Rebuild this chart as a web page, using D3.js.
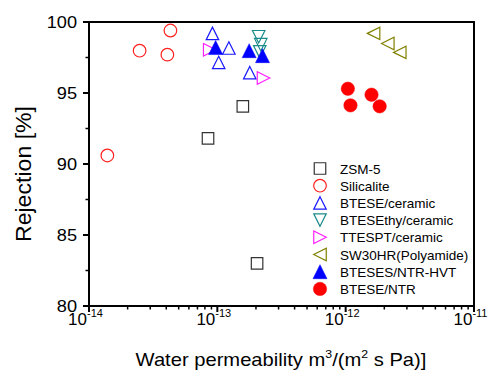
<!DOCTYPE html>
<html>
<head>
<meta charset="utf-8">
<script src="https://cdn.jsdelivr.net/npm/d3@7"></script>
<style>
  html, body { margin: 0; padding: 0; background: #fff; }
  svg { display: block; font-family: Arial, "Liberation Sans", sans-serif; }
</style>
</head>
<body>
<svg id="chart" width="494" height="372"></svg>
<script>
// data: [permeability, rejection %]
const zsm5 = [[8.46e-14, 91.8], [1.58e-13, 94.06], [2.04e-13, 83.0]];
const silicalite = [[1.39e-14, 90.6], [2.48e-14, 97.98], [4.31e-14, 99.4], [4.08e-14, 97.7]];
const bteseCeramic = [[9.16e-14, 99.2], [1.23e-13, 98.17], [1.025e-13, 97.15], [1.79e-13, 96.43]];
const btesethyCeramic = [[2.10e-13, 98.96], [2.18e-13, 98.4], [2.14e-13, 97.9]];
const ttesptCeramic = [[8.72e-14, 98.05], [2.29e-13, 96.06]];
const sw30hr = [[1.65e-12, 99.2], [2.13e-12, 98.49], [2.64e-12, 97.86]];
const btesesHvt = [[9.7e-14, 98.2], [1.77e-13, 97.98], [2.25e-13, 97.63]];
const bteseNtr = [[1.04e-12, 95.3], [1.09e-12, 94.13], [1.59e-12, 94.88], [1.84e-12, 94.06]];

const seriesNames = ['ZSM-5', 'Silicalite', 'BTESE/ceramic', 'BTESEthy/ceramic',
  'TTESPT/ceramic', 'SW30HR(Polyamide)', 'BTESES/NTR-HVT', 'BTESE/NTR'];
const seriesData = [zsm5, silicalite, bteseCeramic, btesethyCeramic,
  ttesptCeramic, sw30hr, btesesHvt, bteseNtr];

const xTicks = [1e-14, 1e-13, 1e-12, 1e-11];
const xTickExp = ['-14', '-13', '-12', '-11'];
const yTicks = [80, 85, 90, 95, 100];

// marker styles
const styles = [
  { shape: 'square', color: '#333333', fill: false },
  { shape: 'circle', color: '#ff2020', fill: false },
  { shape: 'up', color: '#1a1aff', fill: false },
  { shape: 'down', color: '#1a8a8a', fill: false },
  { shape: 'right', color: '#ff20ff', fill: false },
  { shape: 'left', color: '#808000', fill: false },
  { shape: 'up', color: '#0000ff', fill: true },
  { shape: 'circle', color: '#ff0000', fill: true },
];

const mLeft = 89, mTop = 22, mRight = 474, mBottom = 306;

const svg = d3.select('#chart');

const x = d3.scaleLog().domain([1e-14, 1e-11]).range([mLeft, mRight]);
const y = d3.scaleLinear().domain([80, 100]).range([mBottom, mTop]);

function markerPath(shape, s) {
  const h = s / 2;
  if (shape === 'up') return `M0,${-h}L${h},${h}L${-h},${h}Z`;
  if (shape === 'down') return `M0,${h}L${h},${-h}L${-h},${-h}Z`;
  if (shape === 'right') return `M${h},0L${-h},${h}L${-h},${-h}Z`;
  if (shape === 'left') return `M${-h},0L${h},${h}L${h},${-h}Z`;
  if (shape === 'square') return `M${-h + 0.5},${-h + 0.5}H${h - 0.5}V${h - 0.5}H${-h + 0.5}Z`;
  return null;
}

function drawMarker(g, st, cx, cy) {
  const size = st.fill ? 14 : 12.5;
  if (st.shape === 'circle') {
    g.append('circle')
      .attr('cx', cx).attr('cy', cy)
      .attr('r', st.fill ? 6.7 : 6.3)
      .attr('fill', st.fill ? st.color : 'none')
      .attr('stroke', st.color)
      .attr('stroke-width', st.fill ? 0.5 : 1.2);
  } else {
    g.append('path')
      .attr('d', markerPath(st.shape, size))
      .attr('transform', `translate(${cx},${cy})`)
      .attr('fill', st.fill ? st.color : 'none')
      .attr('stroke', st.color)
      .attr('stroke-width', st.fill ? 0.5 : 1.2)
      .attr('stroke-linejoin', 'miter');
  }
}

// frame
svg.append('rect')
  .attr('x', mLeft).attr('y', mTop)
  .attr('width', mRight - mLeft).attr('height', mBottom - mTop)
  .attr('fill', 'none').attr('stroke', '#000').attr('stroke-width', 2);

// x axis ticks (log minor)
const xg = svg.append('g');
for (let e = -14; e < -11; e++) {
  for (let m = 1; m <= 9; m++) {
    const v = m * Math.pow(10, e);
    xg.append('line')
      .attr('x1', x(v)).attr('x2', x(v))
      .attr('y1', mBottom).attr('y2', mBottom + (m === 1 ? 6 : 3.5))
      .attr('stroke', '#000').attr('stroke-width', m === 1 ? 2 : 1.5);
  }
}
xg.append('line')
  .attr('x1', x(1e-11)).attr('x2', x(1e-11))
  .attr('y1', mBottom).attr('y2', mBottom + 6)
  .attr('stroke', '#000').attr('stroke-width', 2);

xTicks.forEach((v, i) => {
  const t = xg.append('text')
    .attr('x', x(v) - 3.5).attr('y', 325)
    .attr('text-anchor', 'middle')
    .attr('font-size', 17);
  t.append('tspan').text('10');
  t.append('tspan').attr('dy', -8).attr('font-size', 11).text(xTickExp[i]);
});

// y axis ticks
const yg = svg.append('g');
for (let v = 80; v <= 100; v += 2.5) {
  const major = v % 5 === 0;
  yg.append('line')
    .attr('x1', mLeft).attr('x2', mLeft - (major ? 6 : 3.5))
    .attr('y1', y(v)).attr('y2', y(v))
    .attr('stroke', '#000').attr('stroke-width', major ? 2 : 1.5);
}
yTicks.forEach(v => {
  yg.append('text')
    .attr('transform', `translate(${mLeft - 12},${y(v) + 6}) scale(1.07,1)`)
    .attr('text-anchor', 'end')
    .attr('font-size', 17)
    .text(v);
});

// axis titles
const xl = svg.append('text')
  .attr('transform', 'translate(281,366) scale(1.12,1)')
  .attr('text-anchor', 'middle')
  .attr('font-size', 18);
xl.append('tspan').text('Water permeability m');
xl.append('tspan').attr('dy', -8).attr('font-size', 11).text('3');
xl.append('tspan').attr('dy', 8).text('/(m');
xl.append('tspan').attr('dy', -8).attr('font-size', 11).text('2');
xl.append('tspan').attr('dy', 8).text(' s Pa)]');

svg.append('text')
  .attr('transform', 'translate(31,174) rotate(-90) scale(1.05,1)')
  .attr('text-anchor', 'middle')
  .attr('font-size', 22)
  .text('Rejection [%]');

// points
const pts = svg.append('g');
seriesData.forEach((data, i) => {
  data.forEach(d => drawMarker(pts, styles[i], x(d[0]), y(d[1])));
});

// legend
const lg = svg.append('g');
seriesNames.forEach((name, i) => {
  const ly = 168.5 + i * 17.2;
  drawMarker(lg, styles[i], 320, ly);
  lg.append('text')
    .attr('x', 340).attr('y', ly + 5)
    .attr('font-size', 13.5)
    .text(name);
});
</script>
</body>
</html>
